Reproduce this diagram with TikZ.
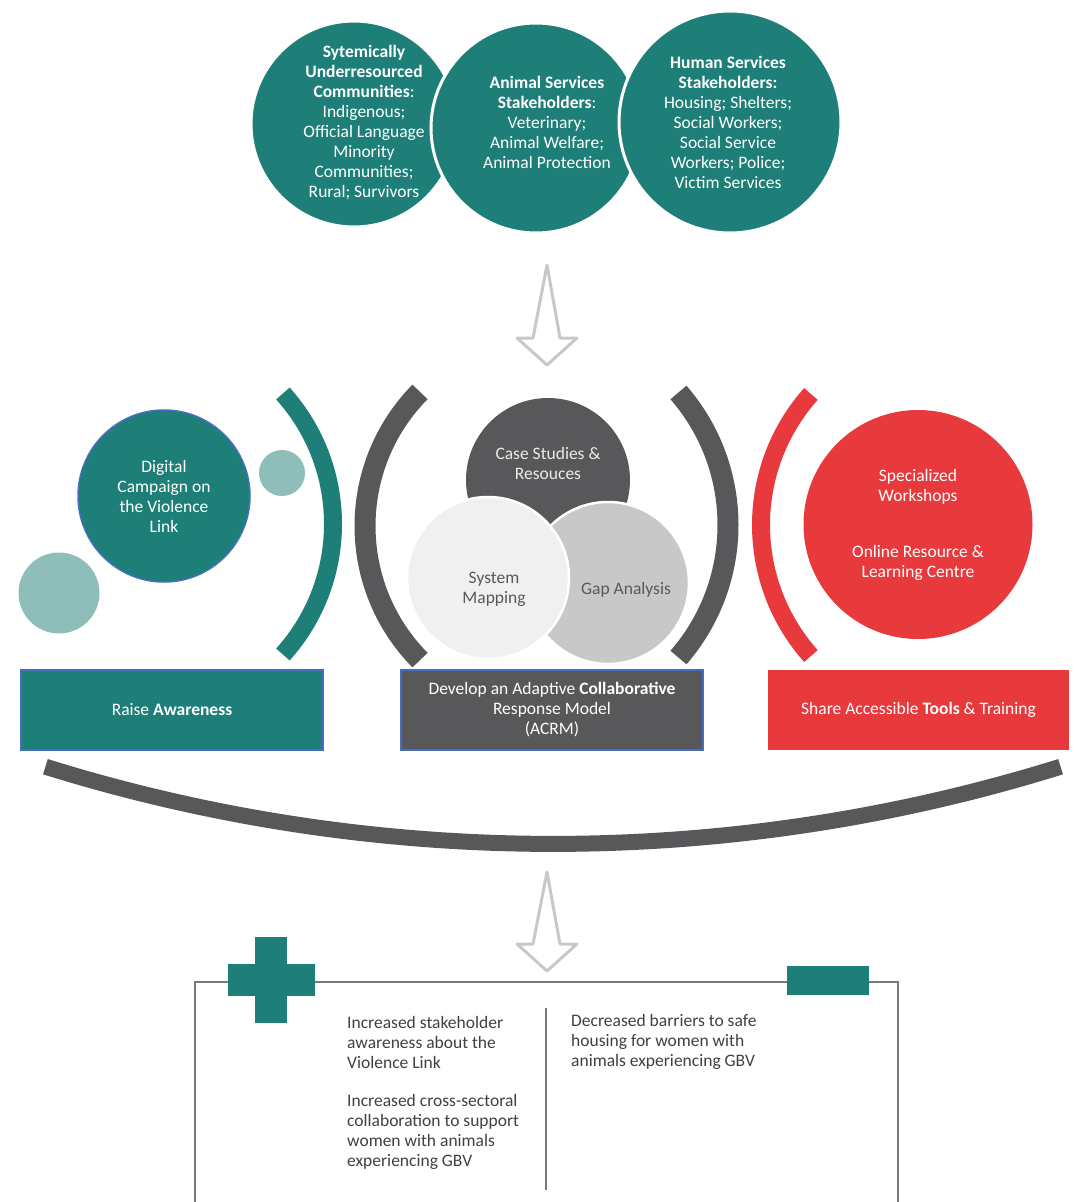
\documentclass[tikz,border=0pt]{standalone}
\usepackage{fontspec}
\setmainfont{Carlito}
\definecolor{teal1}{RGB}{30,127,120}
\definecolor{tealL}{RGB}{143,190,186}
\definecolor{gray1}{RGB}{88,88,90}
\definecolor{venL}{RGB}{240,240,240}
\definecolor{venM}{RGB}{200,200,200}
\definecolor{red1}{RGB}{232,57,61}
\definecolor{arrowc}{RGB}{200,200,200}
\definecolor{boxline}{RGB}{120,120,120}
\definecolor{bluebord}{RGB}{72,110,190}
\definecolor{txtdark}{RGB}{64,64,64}
\definecolor{txtgray}{RGB}{89,89,89}
\tikzset{
  disc/.style={circle, inner sep=0pt, minimum size=#1},
  lbl/.style={align=center, inner sep=0pt, font=\fontsize{17.5}{20}\selectfont},
  wlbl/.style={lbl, text=white},
  band/.style={line width=#1, line cap=butt},
  blockarrow/.style={draw=arrowc, line width=3pt, fill=white, line join=round},
  bigrect/.style={rectangle, inner sep=0pt, minimum width=302pt, minimum height=80pt, align=center, text=white, font=\fontsize{17.5}{20}\selectfont},
  outtxt/.style={align=left, inner sep=0pt, anchor=west, text=txtdark, font=\fontsize{17.5}{20}\selectfont},
}
\begin{document}
\begin{tikzpicture}[x=1pt,y=1pt]
\useasboundingbox (0,0) rectangle (1081,-1202);

% ---------- top stakeholder circles ----------
\node[disc=206pt, fill=teal1, draw=white, line width=3pt] (c1) at (354,-124) {};
\node[disc=210pt, fill=teal1, draw=white, line width=3pt] (c2) at (536,-128) {};
\node[disc=222pt, fill=teal1, draw=white, line width=3pt] (c3) at (730,-122) {};
\node[wlbl] (t1) at (364,-122.5) {\textbf{Sytemically}\\\textbf{Underresourced}\\\textbf{Communities}:\\Indigenous;\\Official Language\\Minority\\Communities;\\Rural; Survivors};
\node[wlbl] (t2) at (547,-122.5) {\textbf{Animal Services}\\\textbf{Stakeholders}:\\Veterinary;\\Animal Welfare;\\Animal Protection};
\node[wlbl] (t3) at (728,-122.5) {\textbf{Human Services}\\\textbf{Stakeholders:}\\Housing; Shelters;\\Social Workers;\\Social Service\\Workers; Police;\\Victim Services};

% ---------- top arrow ----------
\coordinate (a1) at (547,-265);
\draw[blockarrow] (a1) -- ++(-14,-73) -- ++(-16,0) -- ++(30,-27) -- ++(30,27) -- ++(-17,0) -- cycle;

% ---------- left (teal) group ----------
\draw[teal1, band=18pt] (138,-524) ++(42:195pt) arc[start angle=42, end angle=-42, radius=195pt];
\node[disc=46pt, fill=tealL] (s1) at (282,-473) {};
\node[disc=81pt, fill=tealL] (s2) at (59,-593) {};
\node[disc=172pt, fill=teal1, draw=bluebord, line width=1.5pt, wlbl] (dc) at (164,-496) {Digital\\Campaign on\\the Violence\\Link};

% ---------- middle (grey) group ----------
\draw[gray1, band=21pt] (556,-526) ++(135.4:191pt) arc[start angle=135.4, end angle=224.6, radius=191pt];
\draw[gray1, band=21pt] (526,-525) ++(41:202pt) arc[start angle=41, end angle=-41, radius=202pt];
\node[disc=164pt, fill=gray1] (v1) at (548,-480) {};
\node[disc=162pt, fill=venM, draw=white, line width=2.5pt] (v3) at (608,-583) {};
\node[disc=162pt, fill=venL, draw=white, line width=2.5pt] (v2) at (488,-578) {};
\node[lbl, text=white!92!black] (vt1) at (548,-463.5) {Case Studies \&\\Resouces};
\node[lbl, text=txtgray] (vt2) at (494,-589.5) {System\\Mapping};
\node[lbl, text=txtgray] (vt3) at (626,-589.5) {Gap Analysis};

% ---------- right (red) group ----------
\draw[red1, band=18pt] (958,-525) ++(138.3:197pt) arc[start angle=138.3, end angle=221.7, radius=197pt];
\node[disc=229pt, fill=red1, wlbl] (rc) at (918,-524.5) {Specialized\\Workshops\\[36pt]Online Resource \&\\Learning Centre};

% ---------- goal boxes ----------
\node[bigrect, fill=teal1, draw=bluebord, line width=1.5pt] (g1) at (172,-710) {Raise \textbf{Awareness}};
\node[bigrect, fill=gray1, draw=bluebord, line width=1.5pt] (g2) at (552,-710) {Develop an Adaptive \textbf{Collaborative}\\Response Model\\(ACRM)};
\node[bigrect, fill=red1, minimum width=301pt] (g3) at (918.5,-710) {Share Accessible \textbf{Tools} \& Training};

% ---------- bottom bracket arc ----------
\draw[gray1, band=16pt] (553,863) ++(252.7:1707pt) arc[start angle=252.7, end angle=287.3, radius=1707pt];

% ---------- bottom arrow ----------
\coordinate (a2) at (547,-872);
\draw[blockarrow] (a2) -- ++(-14,-72) -- ++(-16,0) -- ++(30,-27) -- ++(30,27) -- ++(-17,0) -- cycle;

% ---------- outcomes box ----------
\coordinate (bl) at (195,-1210);
\coordinate (tl) at (195,-982);
\coordinate (tr) at (898,-982);
\coordinate (br) at (898,-1210);
\draw[boxline, line width=2.5pt] (bl) -- (tl) -- (tr) -- (br);
\fill[teal1] (228,-964) rectangle (315,-996);
\fill[teal1] (255,-937) rectangle (287,-1023);
\fill[teal1] (787,-966) rectangle (869,-995);
\coordinate (d1) at (546,-1008);
\coordinate (d2) at (546,-1190);
\draw[boxline, line width=2pt] (d1) -- (d2);
\node[outtxt] (o1) at (347,-1042) {Increased stakeholder\\awareness about the\\Violence Link};
\node[outtxt] (o2) at (347,-1132) {Increased cross-sectoral\\collaboration to support\\women with animals\\experiencing GBV};
\node[outtxt] (o3) at (571,-1042) {Decreased barriers to safe\\housing for women with\\animals experiencing GBV};
\end{tikzpicture}
\end{document}
